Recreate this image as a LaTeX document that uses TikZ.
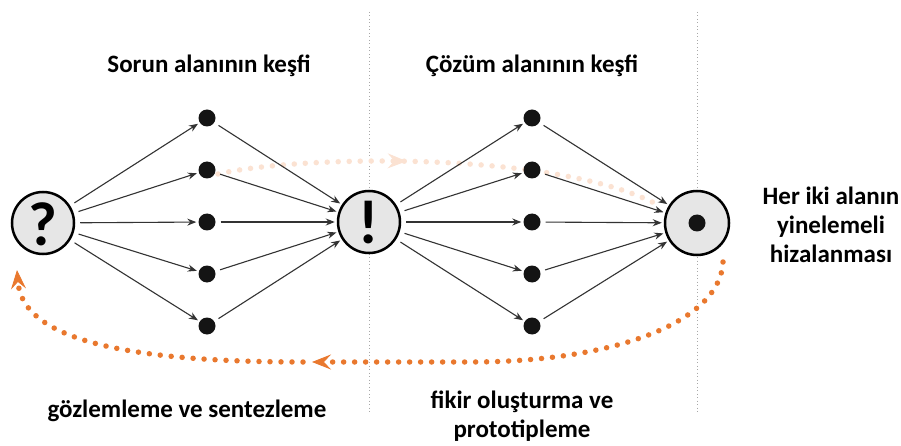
\documentclass[tikz,border=0pt]{standalone}
\usepackage{fontspec}
\setmainfont{Carlito}
\usetikzlibrary{arrows.meta,decorations.markings}
\definecolor{orng}{HTML}{E9782E}
\definecolor{faint}{HTML}{FBE2D2}
\definecolor{circfill}{HTML}{E6E6E6}
\definecolor{conn}{HTML}{333333}
\definecolor{sepc}{HTML}{A8A8A8}
\tikzset{otip/.tip={Stealth[length=19pt,width=15pt,inset=7pt,line width=0.8pt]}}
\begin{document}
\begin{tikzpicture}[x=1pt,y=-1pt,
  big/.style={circle,draw=black,line width=2.5pt,fill=circfill,minimum size=62pt,inner sep=0pt},
  dot/.style={circle,fill=black!92,minimum size=17pt,inner sep=0pt},
  link/.style={draw=conn,line width=1.1pt,-{Stealth[length=9pt,width=7pt]},shorten <=5pt,shorten >=2pt},
  loopline/.style={draw=#1,line width=5.5pt,line cap=round,dash pattern=on 0pt off 11pt},
  glyph/.style={font=\fontsize{62}{62}\selectfont\bfseries},
  label/.style={font=\fontsize{25}{29}\selectfont\bfseries,align=center},
  sepline/.style={draw=sepc,line width=1pt,dash pattern=on 1pt off 2.5pt}]
\useasboundingbox (0,0) rectangle (901,446);
\fill[white] (0,0) rectangle (901,446);
% separators
\coordinate (s1t) at (369,12); \coordinate (s1b) at (369,412);
\coordinate (s2t) at (697,12); \coordinate (s2b) at (697,412);
\draw[sepline] (s1t) -- (s1b);
\draw[sepline] (s2t) -- (s2b);
% faint upper loop
\coordinate (f1) at (218,174); \coordinate (f2) at (662,207);
\draw[loopline=faint,postaction={decorate,decoration={markings,mark=at position 0.42 with {\arrow[faint]{otip}}}}]
  (f1) .. controls (300,155) and (560,150) .. (f2);
% main nodes
\node[big] (q) at (43,223) {};
\node[glyph] (qg) at (43,224) {?};
\node[big] (e) at (369,222) {};
\node[glyph] (eg) at (369,223) {!};
\node[big,minimum size=64pt] (t) at (697,223) {};
\node[dot] (tc) at (t) {};
\foreach \i/\y in {1/118,2/170,3/222,4/274,5/326}{
  \node[dot] (a\i) at (207,\y) {};
  \node[dot] (b\i) at (532,\y) {};
}
\foreach \i in {1,...,5}{
  \draw[link] (q) -- (a\i);
  \draw[link] (a\i) -- (e);
  \draw[link] (e) -- (b\i);
  \draw[link] (b\i) -- (t);
}
% orange feedback loop
\coordinate (l0) at (723,262);
\coordinate (l1) at (470,362);
\coordinate (l2) at (312,362);
\coordinate (l3) at (303,362);
\coordinate (l4) at (17,270);
\draw[loopline=orng,-{otip}] (l0) .. controls (720,322) and (615,362) .. (l1) -- (l2);
\draw[loopline=orng,-{otip}] (l3) .. controls (110,362) and (22,335) .. (l4);
% texts
\node[label,anchor=base] (t1) at (209,73) {Sorun alanının keşfi};
\node[label,anchor=base] (t2) at (532,73) {Çözüm alanının keşfi};
\node[label,anchor=north] (t3) at (831,183) {Her iki alanın\\yinelemeli\\hizalanması};
\node[label,anchor=base] (t4) at (187,417) {gözlemleme ve sentezleme};
\node[label,anchor=north] (t5) at (522,387) {fikir oluşturma ve\\prototipleme};
\end{tikzpicture}
\end{document}
